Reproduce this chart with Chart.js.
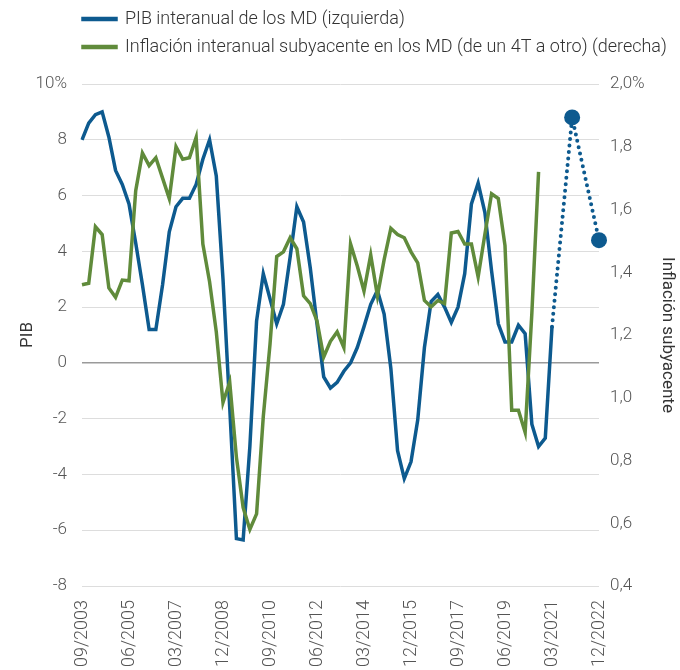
<!DOCTYPE html>
<html>
<head>
<meta charset="utf-8">
<script src="https://cdn.jsdelivr.net/npm/chart.js@4.4.0/dist/chart.umd.min.js"></script>
<style>
  html, body { margin: 0; padding: 0; background: #fff; overflow: hidden; }
  #wrap { width: 680px; height: 682px; }
</style>
</head>
<body>
<div id="wrap"><canvas id="chart" width="680" height="682"></canvas></div>
<script>
// trimestres 09/2003 .. 12/2022
const meses = ['03', '06', '09', '12'];
const quarters = [];
for (let y = 2003; y <= 2022; y++) {
    for (let q = 0; q < 4; q++) {
        if (y === 2003 && q < 2) continue;
        quarters.push(meses[q] + '/' + y);
    }
}

// PIB interanual de los MD (%), 09/2003 .. 03/2021
const pibValues = [
    8.0, 8.6, 8.9, 9.0, 8.1, 6.9, 6.4, 5.7, 4.3, 2.8,
    1.2, 1.2, 2.8, 4.7, 5.6, 5.9, 5.9, 6.4, 7.3, 8.0,
    6.7, 3.0, -1.6, -6.3, -6.35, -3.0, 1.5, 3.2, 2.3, 1.4,
    2.1, 3.8, 5.6, 5.05, 3.4, 1.4, -0.5, -0.9, -0.7, -0.3,
    0.0, 0.55, 1.3, 2.1, 2.6, 1.75, -0.2, -3.15, -4.15, -3.55,
    -2.05, 0.55, 2.2, 2.45, 2.0, 1.45, 2.0, 3.2, 5.7, 6.45,
    5.4, 3.3, 1.4, 0.75, 0.75, 1.35, 1.05, -2.2, -3.0, -2.7,
    1.3
];

// previsiones (línea punteada)
const projIndex = [70, 73, 77];
const projValues = [1.3, 8.8, 4.4];

// Inflación subyacente (%), 09/2003 .. 06/2020
const coreValues = [
    1.36, 1.365, 1.545, 1.52, 1.35, 1.32, 1.375, 1.373, 1.66, 1.78,
    1.74, 1.765, 1.70, 1.635, 1.80, 1.76, 1.765, 1.83, 1.49, 1.37,
    1.21, 0.985, 1.05, 0.81, 0.65, 0.58, 0.63, 0.94, 1.17, 1.45,
    1.465, 1.51, 1.475, 1.325, 1.30, 1.245, 1.13, 1.18, 1.21, 1.16,
    1.49, 1.42, 1.34, 1.455, 1.325, 1.44, 1.54, 1.52, 1.51, 1.465,
    1.43, 1.31, 1.29, 1.31, 1.30, 1.525, 1.53, 1.49, 1.49, 1.385,
    1.52, 1.65, 1.635, 1.485, 0.96, 0.96, 0.89, 1.27, 1.72
];

const azul = '#0d5a8f';
const verde = '#608b3b';

function fill(values) {
    return quarters.map((q, i) => i < values.length ? values[i] : null);
}
const projData = quarters.map(() => null);
projIndex.forEach((idx, k) => { projData[idx] = projValues[k]; });

// leyenda alineada con el área del gráfico
const legendShift = {
    id: 'legendShift',
    beforeInit(chart) {
        const fit = chart.legend.fit;
        chart.legend.fit = function () {
            fit.call(this);
            this.height += 18;
        };
    },
    afterLayout(chart) {
        chart.legend.left = chart.chartArea.left - 9;
    }
};

new Chart(document.getElementById('chart'), {
    type: 'line',
    data: {
        labels: quarters,
        datasets: [{
            label: 'PIB interanual de los MD (izquierda)',
            data: fill(pibValues),
            borderColor: azul,
            backgroundColor: azul,
            borderWidth: 3.5,
            pointRadius: 0,
            yAxisID: 'y',
            order: 1
        }, {
            label: 'Inflación interanual subyacente en los MD (de un 4T a otro) (derecha)',
            data: fill(coreValues),
            borderColor: verde,
            backgroundColor: verde,
            borderWidth: 3.5,
            pointRadius: 0,
            yAxisID: 'y1',
            order: 0
        }, {
            label: 'proj',
            data: projData,
            borderColor: azul,
            backgroundColor: azul,
            borderWidth: 4,
            borderDash: [0, 6.5],
            borderCapStyle: 'round',
            spanGaps: true,
            pointRadius: ctx => ctx.dataIndex === 70 ? 0 : 8,
            pointBorderWidth: 0,
            yAxisID: 'y',
            order: 2
        }]
    },
    options: {
        responsive: false,
        animation: false,
        devicePixelRatio: 1,
        layout: { padding: { left: 18, right: 3, top: 0, bottom: 0 } },
        plugins: {
            legend: {
                position: 'top',
                align: 'start',
                labels: {
                    boxWidth: 33,
                    boxHeight: 1,
                    padding: 10,
                    color: '#333',
                    font: { family: 'Roboto', size: 18, weight: 300 },
                    filter: item => item.datasetIndex !== 2,
                    sort: (a, b) => a.datasetIndex - b.datasetIndex
                }
            },
            tooltip: { enabled: false }
        },
        scales: {
            x: {
                grid: { display: false, drawTicks: false },
                border: { display: false },
                afterFit: s => { s.height = 96; },
                ticks: {
                    autoSkip: false,
                    minRotation: 90,
                    maxRotation: 90,
                    padding: 14,
                    color: '#555',
                    font: { family: 'Roboto', size: 18, weight: 300 },
                    callback: (v, i) => i % 7 === 0 ? quarters[i] : ''
                }
            },
            y: {
                position: 'left',
                min: -8,
                max: 10,
                afterFit: s => { s.width = 64; },
                grid: {
                    drawTicks: false,
                    color: ctx => ctx.tick.value === 0 ? '#9a9a9a' : '#dddddd',
                    lineWidth: ctx => ctx.tick.value === 0 ? 1.5 : 1
                },
                border: { display: false },
                ticks: {
                    stepSize: 2,
                    padding: 15,
                    color: '#555',
                    font: { family: 'Roboto', size: 17, weight: 300 },
                    callback: v => v === 10 ? '10%' : v
                },
                title: {
                    display: true,
                    text: 'PIB',
                    color: '#333',
                    font: { family: 'Roboto', size: 17 },
                    padding: { top: 0, bottom: 0 }
                }
            },
            y1: {
                position: 'right',
                min: 0.4,
                max: 2.0,
                afterFit: s => { s.width = 78; },
                grid: { display: false, drawTicks: false },
                border: { display: false },
                ticks: {
                    stepSize: 0.2,
                    padding: 11,
                    color: '#555',
                    font: { family: 'Roboto', size: 17, weight: 300 },
                    callback: v => {
                        const s = (Math.round(v * 10) / 10).toFixed(1).replace('.', ',');
                        return v > 1.99 ? s + '%' : s;
                    }
                },
                title: {
                    display: true,
                    text: 'Inflación subyacente',
                    color: '#333',
                    font: { family: 'Roboto', size: 17 },
                    padding: { top: 0, bottom: 8 }
                }
            }
        }
    },
    plugins: [legendShift]
});
</script>
</body>
</html>
